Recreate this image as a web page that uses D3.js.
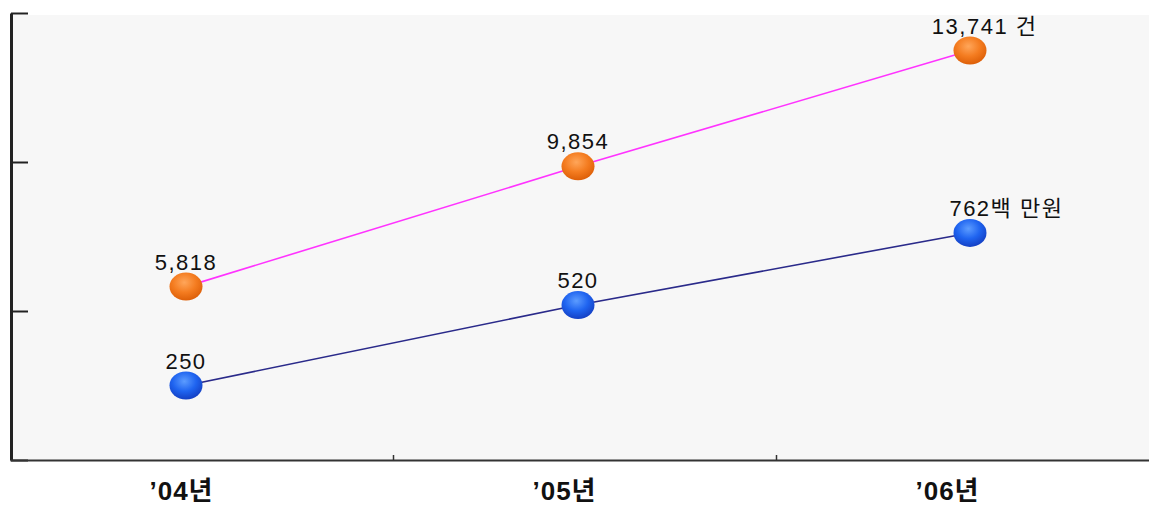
<!DOCTYPE html>
<html>
<head>
<meta charset="utf-8">
<script src="https://cdn.jsdelivr.net/npm/d3@7"></script>
<style>
	body { margin: 0; background: #fff; }
	svg { display: block; }
	.value-label { font-family: 'Liberation Sans', 'Noto Sans CJK KR', sans-serif; font-size: 22px; fill: #111; letter-spacing: 1.5px; }
	.cat-label { font-family: 'Liberation Sans', 'Noto Sans CJK KR', sans-serif; font-size: 26px; font-weight: bold; fill: #111; letter-spacing: 1px; }
</style>
</head>
<body>
<svg id="chart" width="1149" height="506"></svg>
<script>
const categories = ["’04년", "’05년", "’06년"];
const caseCounts = [5818, 9854, 13741];
const amounts = [250, 520, 762];
const caseTicks = [0, 5000, 10000, 15000];
const amountTicks = [0, 500, 1000, 1500];
const caseUnit = ' 건';
const amountUnit = '백 만원';

const chartW = 1149, chartH = 506;
const plotLeft = 10, plotRight = 1159, plotTop = 13, plotBottom = 460;

const svg = d3.select('#chart');

const xBand = d3.scaleBand().domain(categories).range([plotLeft, plotRight]);
const xBoundary = d3.scaleLinear().domain([0, categories.length]).range([plotLeft, plotRight]);
const xPoint = d3.scalePoint().domain(categories).range([186, 970]);
const yCases = d3.scaleLinear().domain([0, 15000]).range([plotBottom, plotTop]);
const yAmounts = d3.scaleLinear().domain([0, 1500]).range([plotBottom, plotTop]);

const defs = svg.append('defs');
function addBallGradient(id, light, mid, dark) {
	const g = defs.append('radialGradient')
		.attr('id', id)
		.attr('cx', '45%').attr('cy', '35%').attr('r', '65%');
	g.append('stop').attr('offset', '0%').attr('stop-color', light);
	g.append('stop').attr('offset', '55%').attr('stop-color', mid);
	g.append('stop').attr('offset', '100%').attr('stop-color', dark);
}
addBallGradient('ball-orange', '#ffa65a', '#f47c20', '#dd5f08');
addBallGradient('ball-blue', '#5c9cff', '#1f64f0', '#1440c4');

// plot background
svg.append('rect')
	.attr('x', plotLeft).attr('y', 15)
	.attr('width', chartW - plotLeft).attr('height', plotBottom - 15)
	.style('fill', '#f7f7f7');

// left axis
const yAxis = svg.append('g')
	.attr('transform', 'translate(' + (plotLeft + 1) + ',0)')
	.call(d3.axisLeft(yCases).tickValues(caseTicks).tickFormat('').tickSizeInner(-17).tickSizeOuter(0));
yAxis.select('.domain').style('stroke', '#222').style('stroke-width', 3);
yAxis.selectAll('.tick line').style('stroke', '#222').style('stroke-width', 2);

// bottom axis
const xAxis = svg.append('g')
	.attr('transform', 'translate(0,' + plotBottom + ')')
	.call(d3.axisBottom(xBoundary).tickValues(d3.range(1, categories.length)).tickFormat('').tickSizeInner(-5).tickSizeOuter(0));
xAxis.select('.domain').style('stroke', '#333').style('stroke-width', 2);
xAxis.selectAll('.tick line').style('stroke', '#333').style('stroke-width', 1.5);

svg.append('g').selectAll('.cat-label')
	.data(categories)
	.enter().append('text')
	.attr('class', 'cat-label')
	.attr('x', (d) => { return xBand(d) + xBand.bandwidth() / 2 - 20; })
	.attr('y', 500)
	.attr('text-anchor', 'middle')
	.text((d) => { return d; });

const series = [
	{values: caseCounts, y: yCases, line: '#ff33ff', ball: 'url(#ball-orange)', unit: caseUnit, fmt: d3.format(',')},
	{values: amounts, y: yAmounts, line: '#2a2a8a', ball: 'url(#ball-blue)', unit: amountUnit, fmt: d3.format('d')}
];

series.forEach((s) => {
	const pts = s.values.map((v, i) => { return {cat: categories[i], value: v, last: i === s.values.length - 1}; });

	svg.append('path')
		.datum(pts)
		.attr('d', d3.line().x((d) => { return xPoint(d.cat); }).y((d) => { return s.y(d.value); }))
		.style('fill', 'none')
		.style('stroke', s.line)
		.style('stroke-width', 1.6);

	svg.append('g').selectAll('ellipse')
		.data(pts)
		.enter().append('ellipse')
		.attr('cx', (d) => { return xPoint(d.cat); })
		.attr('cy', (d) => { return s.y(d.value); })
		.attr('rx', 16.5)
		.attr('ry', 14)
		.style('fill', s.ball);

	const labels = svg.append('g').selectAll('text')
		.data(pts)
		.enter().append('text')
		.attr('class', 'value-label')
		.attr('y', (d) => { return s.y(d.value) - 17; })
		.text((d) => { return s.fmt(d.value); });

	// number centred over the ball, unit appended on the last one
	labels.each(function(d) {
		const w = this.getComputedTextLength();
		d3.select(this).attr('x', xPoint(d.cat) - w / 2);
		if (d.last) d3.select(this).text(s.fmt(d.value) + s.unit);
	});
});
</script>
</body>
</html>
